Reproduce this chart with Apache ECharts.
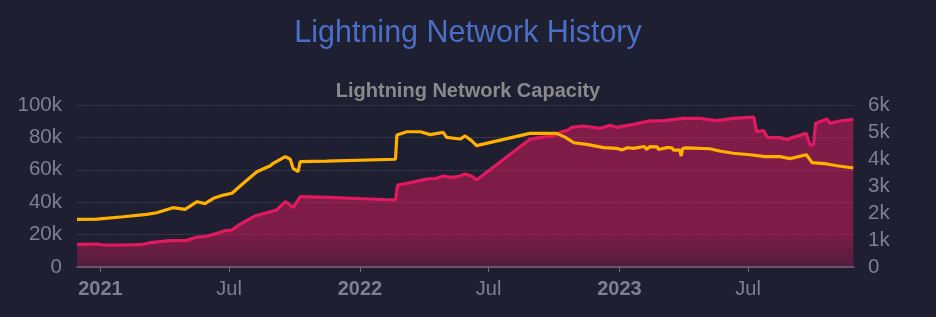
<!DOCTYPE html>
<html>
<head>
<meta charset="utf-8">
<script src="https://cdn.jsdelivr.net/npm/echarts@6/dist/echarts.min.js"></script>
<style>
html,body{margin:0;padding:0;background:#1e1f30;}
#chart{width:936px;height:317px;}
</style>
</head>
<body>
<div id="chart"></div>
<script>
// ---- data ----
const chartTitle = 'Lightning Network History';
const chartSubtitle = 'Lightning Network Capacity';
const monthNames = ['Jan','Feb','Mar','Apr','May','Jun','Jul','Aug','Sep','Oct','Nov','Dec'];
const xMinDate = '2020-11-29';
const xMaxDate = '2023-11-27';

// Channels (left axis)
const channelDates = [
  '2020-11-29','2020-12-27','2021-02-02','2021-03-07','2021-03-21','2021-04-13','2021-04-30',
  '2021-05-17','2021-05-28','2021-06-09','2021-06-23','2021-07-05','2021-07-21','2021-08-09',
  '2021-08-28','2021-09-01','2021-09-18','2021-09-25','2021-09-29','2021-10-06','2021-10-09',
  '2021-11-15','2022-02-20','2022-02-22','2022-03-08','2022-03-27','2022-04-10','2022-04-28',
  '2022-05-03','2022-05-22','2022-05-29','2022-06-07','2022-06-14','2022-08-28','2022-10-05',
  '2022-10-17','2022-10-29','2022-11-16','2022-12-10','2022-12-28','2023-01-05','2023-01-12',
  '2023-01-21','2023-02-05','2023-02-08','2023-02-13','2023-02-23','2023-02-25','2023-03-09',
  '2023-03-16','2023-03-18','2023-03-27','2023-03-29','2023-03-31','2023-04-05','2023-05-08',
  '2023-05-22','2023-06-10','2023-07-04','2023-07-25','2023-08-15','2023-08-29','2023-09-21',
  '2023-09-29','2023-10-20','2023-11-03','2023-11-26'
];
const channelCounts = [
  29400,29600,31000,32500,33500,36600,35600,
  40300,39100,42400,44400,45500,51700,58800,
  62500,64000,68100,66500,60900,58800,65000,
  65400,66500,81500,83500,83500,81700,83100,
  80000,79000,80900,78000,74900,82500,82500,
  80000,76700,75700,73700,73200,72300,73600,
  73200,74400,72600,74300,74200,72500,73700,
  73600,72100,72200,68500,73300,73500,73000,
  71600,70200,69300,68100,68100,66900,69300,
  64400,63600,62500,61100
];

// Capacity in BTC (right axis)
const capacityDates = [
  '2020-11-29','2020-12-27','2021-01-05','2021-02-03','2021-02-26','2021-03-12','2021-04-09',
  '2021-04-30','2021-05-17','2021-05-28','2021-06-14','2021-06-25','2021-07-05','2021-07-16',
  '2021-08-07','2021-08-28','2021-09-06','2021-09-18','2021-09-22','2021-09-29','2021-10-09',
  '2021-11-15','2022-02-20','2022-02-23','2022-03-13','2022-04-05','2022-04-19','2022-04-28',
  '2022-05-08','2022-05-19','2022-05-29','2022-06-07','2022-06-14','2022-08-28','2022-09-11',
  '2022-09-30','2022-10-10','2022-10-21','2022-10-26','2022-11-11','2022-12-05','2022-12-19',
  '2022-12-28','2023-01-21','2023-02-13','2023-03-04','2023-04-01','2023-04-24','2023-05-18',
  '2023-06-10','2023-07-09','2023-07-11','2023-07-13','2023-07-23','2023-07-28','2023-08-15',
  '2023-08-24','2023-09-21','2023-09-26','2023-10-01','2023-10-04','2023-10-10','2023-10-20',
  '2023-10-24','2023-11-07','2023-11-26'
];
const capacityBtc = [
  841,852,815,815,826,900,975,
  975,1111,1123,1247,1346,1370,1580,
  1901,2049,2111,2420,2358,2198,2605,
  2580,2481,3037,3123,3259,3284,3370,
  3321,3346,3444,3370,3222,4728,4802,
  4852,4988,5074,5173,5222,5136,5247,
  5173,5284,5410,5420,5507,5507,5420,
  5507,5550,5540,5012,5049,4802,4790,
  4728,4950,4518,4518,5321,5383,5481,
  5321,5407,5469
];

// ---- chart ----
const chart = echarts.init(document.getElementById('chart'));
const labelColor = '#7e808e';
const fontFamily = '"Liberation Sans", Arial, Helvetica, sans-serif';

chart.setOption({
  backgroundColor: '#1e1f30',
  animation: false,
  title: [
    {
      text: chartTitle, left: 'center', top: 13,
      textStyle: { color: '#4b6fc6', fontSize: 30.5, fontWeight: 'normal', fontFamily: fontFamily }
    },
    {
      text: chartSubtitle, left: 'center', top: 76,
      textStyle: { color: '#8a8a8c', fontSize: 20, fontWeight: 'bold', fontFamily: fontFamily }
    }
  ],
  grid: { left: 77, right: 82, top: 105, bottom: 50 },
  xAxis: {
    type: 'time',
    min: xMinDate,
    max: xMaxDate,
    splitNumber: 6,
    axisLine: { lineStyle: { color: '#6a6c7a', width: 1.5 } },
    axisTick: { show: true, length: 5, lineStyle: { color: '#6a6c7a' } },
    splitLine: { show: false },
    axisLabel: {
      color: labelColor, fontSize: 20, fontFamily: fontFamily, margin: 12,
      hideOverlap: false,
      formatter: function (value) {
        const d = new Date(value);
        if (d.getMonth() === 0) return '{y|' + d.getFullYear() + '}';
        return monthNames[d.getMonth()];
      },
      rich: { y: { fontWeight: 'bold', fontSize: 20, color: labelColor, fontFamily: fontFamily } }
    }
  },
  yAxis: [
    {
      type: 'value', min: 0, max: 100000, interval: 20000,
      axisLine: { show: false }, axisTick: { show: false },
      splitLine: { lineStyle: { color: '#484a5c', type: 'dotted', width: 1.2 } },
      axisLabel: {
        color: labelColor, fontSize: 20.5, fontFamily: fontFamily, margin: 15,
        formatter: v => v === 0 ? '0' : (v / 1000) + 'k'
      }
    },
    {
      type: 'value', min: 0, max: 6000, interval: 1000,
      axisLine: { show: false }, axisTick: { show: false },
      splitLine: { show: false },
      axisLabel: {
        color: labelColor, fontSize: 20.5, fontFamily: fontFamily, margin: 14,
        formatter: v => v === 0 ? '0' : (v / 1000) + 'k'
      }
    }
  ],
  series: [
    {
      name: 'Capacity (BTC)',
      type: 'line',
      yAxisIndex: 1,
      showSymbol: false,
      data: capacityDates.map((d, i) => [d, capacityBtc[i]]),
      lineStyle: { color: '#e2195f', width: 3.2 },
      itemStyle: { color: '#e2195f' },
      areaStyle: {
        opacity: 1,
        color: new echarts.graphic.LinearGradient(0, 0, 0, 1, [
          { offset: 0, color: 'rgba(226,24,96,0.5)' },
          { offset: 0.78, color: 'rgba(226,24,96,0.48)' },
          { offset: 1, color: 'rgba(226,24,96,0.26)' }
        ])
      },
      z: 2
    },
    {
      name: 'Channels',
      type: 'line',
      yAxisIndex: 0,
      showSymbol: false,
      data: channelDates.map((d, i) => [d, channelCounts[i]]),
      lineStyle: { color: '#ffb000', width: 3.2 },
      itemStyle: { color: '#ffb000' },
      z: 3
    }
  ]
});
</script>
</body>
</html>
